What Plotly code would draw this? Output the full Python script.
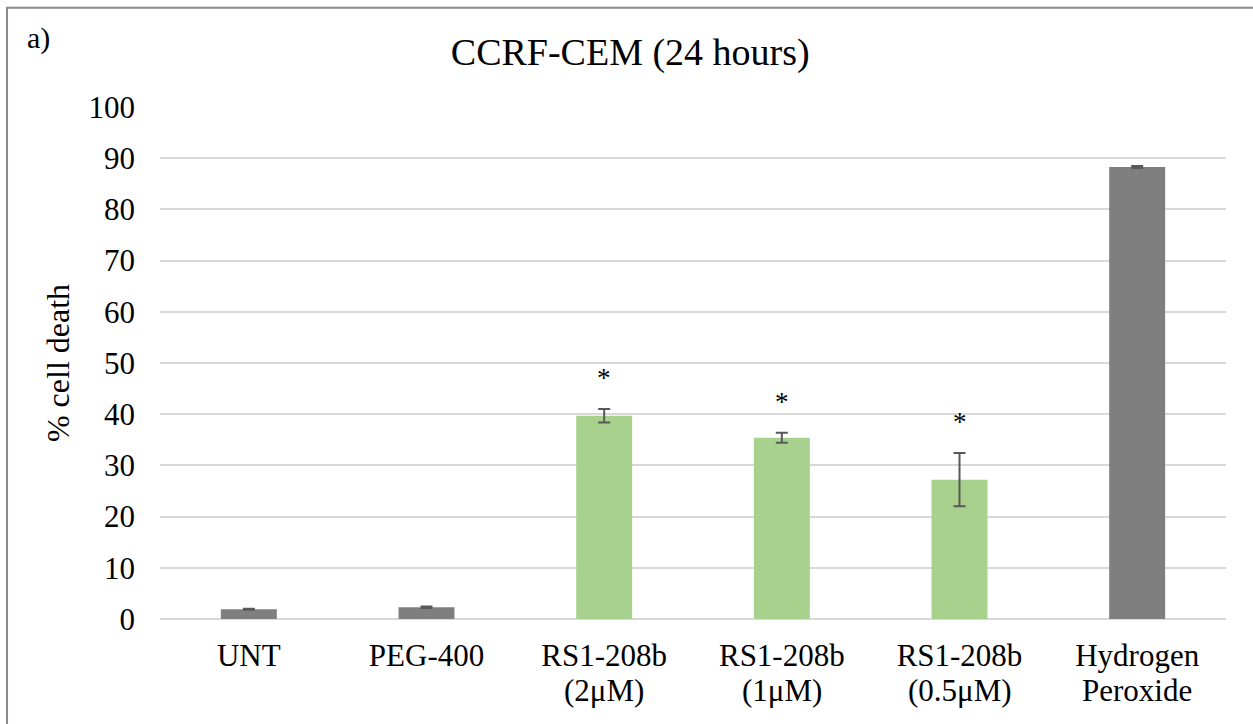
import plotly.graph_objects as go

# Cell death after 24 h treatment (CCRF-CEM)
label_lines = [["UNT"], ["PEG-400"], ["RS1-208b", "(2μM)"], ["RS1-208b", "(1μM)"],
               ["RS1-208b", "(0.5μM)"], ["Hydrogen", "Peroxide"]]
cell_death = [1.9, 2.3, 39.7, 35.4, 27.2, 88.3]
sem = [0.1, 0.15, 1.3, 1.0, 5.2, 0.2]
significant = [False, False, True, True, True, False]
is_compound = [False, False, True, True, True, False]

categories = [" ".join(lines) for lines in label_lines]

FONT = "Liberation Serif"
GRAY = "#7f7f7f"
GREEN = "#a9d18e"

fig = go.Figure()
fig.add_trace(go.Bar(
    x=categories,
    y=cell_death,
    width=0.315,
    marker=dict(color=[GREEN if c else GRAY for c in is_compound], line=dict(width=0)),
    error_y=dict(type="data", array=sem, visible=True,
                 color="#595959", thickness=2, width=6),
    showlegend=False,
    hoverinfo="x+y",
))

# significance asterisks above the error bars
for cat, val, err, sig in zip(categories, cell_death, sem, significant):
    if sig:
        fig.add_annotation(x=cat, y=val + err, text="*", showarrow=False,
                           yanchor="bottom", yshift=14,
                           font=dict(family=FONT, size=27, color="#000000"))

# second line of the two-line category labels (tighter line spacing)
for cat, lines in zip(categories, label_lines):
    if len(lines) > 1:
        fig.add_annotation(x=cat, y=0, text=lines[1], showarrow=False,
                           yanchor="top", yshift=-52,
                           font=dict(family=FONT, size=31, color="#000000"))

fig.add_annotation(xref="paper", yref="paper", x=-0.1262, y=1.135,
                   xanchor="left", yanchor="middle", text="a)", showarrow=False,
                   font=dict(family=FONT, size=30, color="#000000"))

# outer chart frame
fig.add_shape(type="rect", xref="paper", yref="paper",
              x0=-0.1435, x1=1.3, y0=-0.5, y1=1.194,
              line=dict(color="#8a8a8a", width=2), fillcolor="rgba(0,0,0,0)",
              layer="below")

fig.update_layout(
    width=1253, height=724,
    margin=dict(l=160, r=27, t=107, b=105),
    paper_bgcolor="white", plot_bgcolor="white",
    font=dict(family=FONT, color="#000000"),
    title=dict(text="CCRF-CEM (24 hours)", xref="container", x=0.503,
               xanchor="center", yref="container", y=1 - 52 / 724, yanchor="middle",
               font=dict(family=FONT, size=38, color="#000000")),
)
fig.update_xaxes(
    showline=False, showgrid=False, zeroline=False, ticks="",
    tickmode="array", tickvals=categories, ticktext=[lines[0] for lines in label_lines],
    tickfont=dict(family=FONT, size=31, color="#000000"),
    ticklabelstandoff=15,
)
fig.update_yaxes(
    range=[0, 100], dtick=10, showgrid=True, gridcolor="#d9d9d9", gridwidth=1.5,
    zeroline=True, zerolinecolor="#d9d9d9", zerolinewidth=1.5,
    showline=False, ticks="",
    tickfont=dict(family=FONT, size=31, color="#000000"),
    ticklabelstandoff=24,
    title=dict(text="% cell death", standoff=9,
               font=dict(family=FONT, size=32, color="#000000")),
)

fig.write_html("out.html")
